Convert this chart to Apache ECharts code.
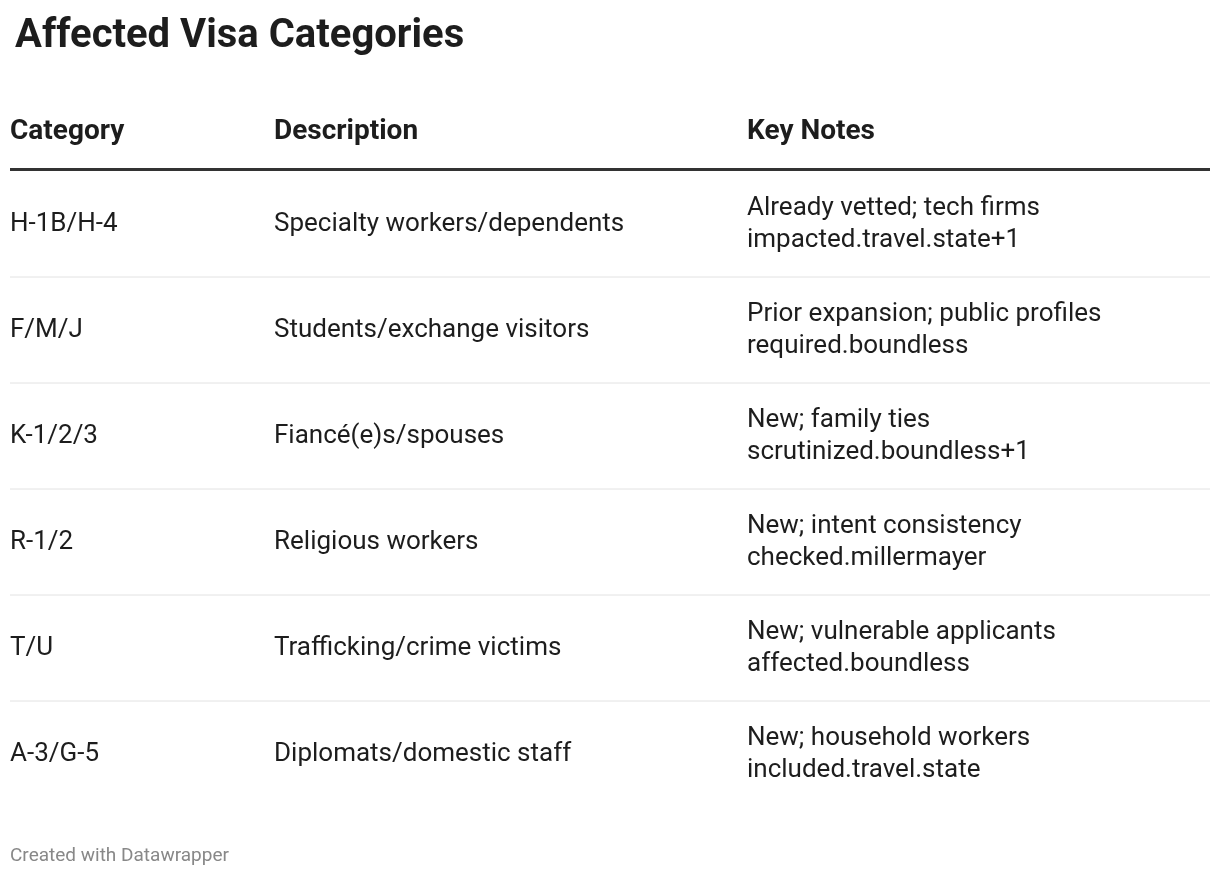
<!DOCTYPE html>
<html><head><meta charset="utf-8">
<script src="https://cdn.jsdelivr.net/npm/echarts@6/dist/echarts.min.js"></script>
<style>html,body{margin:0;padding:0;background:#fff}#c{width:1220px;height:882px}</style>
</head><body><div id="c"></div>
<script>
const headers = ["Category", "Description", "Key Notes"];
const categories = ["H-1B/H-4", "F/M/J", "K-1/2/3", "R-1/2", "T/U", "A-3/G-5"];
const descriptions = ["Specialty workers/dependents", "Students/exchange visitors", "Fiancé(e)s/spouses", "Religious workers", "Trafficking/crime victims", "Diplomats/domestic staff"];
const notes = [
  "Already vetted; tech firms\nimpacted.travel.state+1",
  "Prior expansion; public profiles\nrequired.boundless",
  "New; family ties\nscrutinized.boundless+1",
  "New; intent consistency\nchecked.millermayer",
  "New; vulnerable applicants\naffected.boundless",
  "New; household workers\nincluded.travel.state"
];
const colX = [0, 264, 737];
const font = 'Roboto, "Noto Sans", sans-serif';
const chart = echarts.init(document.getElementById('c'));
const n = categories.length;
chart.setOption({
  animation: false,
  title: {text: "Affected Visa Categories", left: 10, top: 12,
    textStyle: {fontFamily: font, fontSize: 40, fontWeight: 'bold', color: '#1d1d1d'}},
  grid: {left: 10, right: 10, top: 171, height: 636},
  xAxis: {type: 'value', min: 0, max: 1200, show: false},
  yAxis: {type: 'category', data: categories, inverse: true, show: false},
  graphic: [
    ...headers.map((h, i) => ({type: 'text', left: 10 + colX[i], top: 118,
      style: {text: h, font: 'bold 28px ' + font, fill: '#1d1d1d'}})),
    {type: 'rect', shape: {x: 10, y: 168, width: 1200, height: 3}, style: {fill: '#333'}},
    {type: 'text', left: 10, top: 847, style: {text: "Created with Datawrapper", font: '19px ' + font, fill: '#888'}}
  ],
  series: [{
    type: 'custom',
    data: categories.map((c, i) => [i]),
    renderItem: function (params, api) {
      const i = api.value(0);
      const p = api.coord([0, i]);
      const h = api.size([0, 1])[1];
      const x0 = p[0], cy = p[1];
      const children = [
        {type: 'text', style: {x: api.coord([colX[0], i])[0], y: cy, text: categories[i], font: '26px ' + font, fill: '#1d1d1d', verticalAlign: 'middle'}},
        {type: 'text', style: {x: api.coord([colX[1], i])[0], y: cy, text: descriptions[i], font: '26px ' + font, fill: '#1d1d1d', verticalAlign: 'middle'}},
        {type: 'text', style: {x: api.coord([colX[2], i])[0], y: cy, text: notes[i], font: '26px ' + font, fill: '#1d1d1d', verticalAlign: 'middle', lineHeight: 32}}
      ];
      if (i < n - 1) {
        children.push({type: 'line', shape: {x1: x0, y1: cy + h / 2, x2: api.coord([1200, i])[0], y2: cy + h / 2}, style: {stroke: '#e2e2e2', lineWidth: 1}});
      }
      return {type: 'group', children: children};
    }
  }]
});
</script></body></html>
